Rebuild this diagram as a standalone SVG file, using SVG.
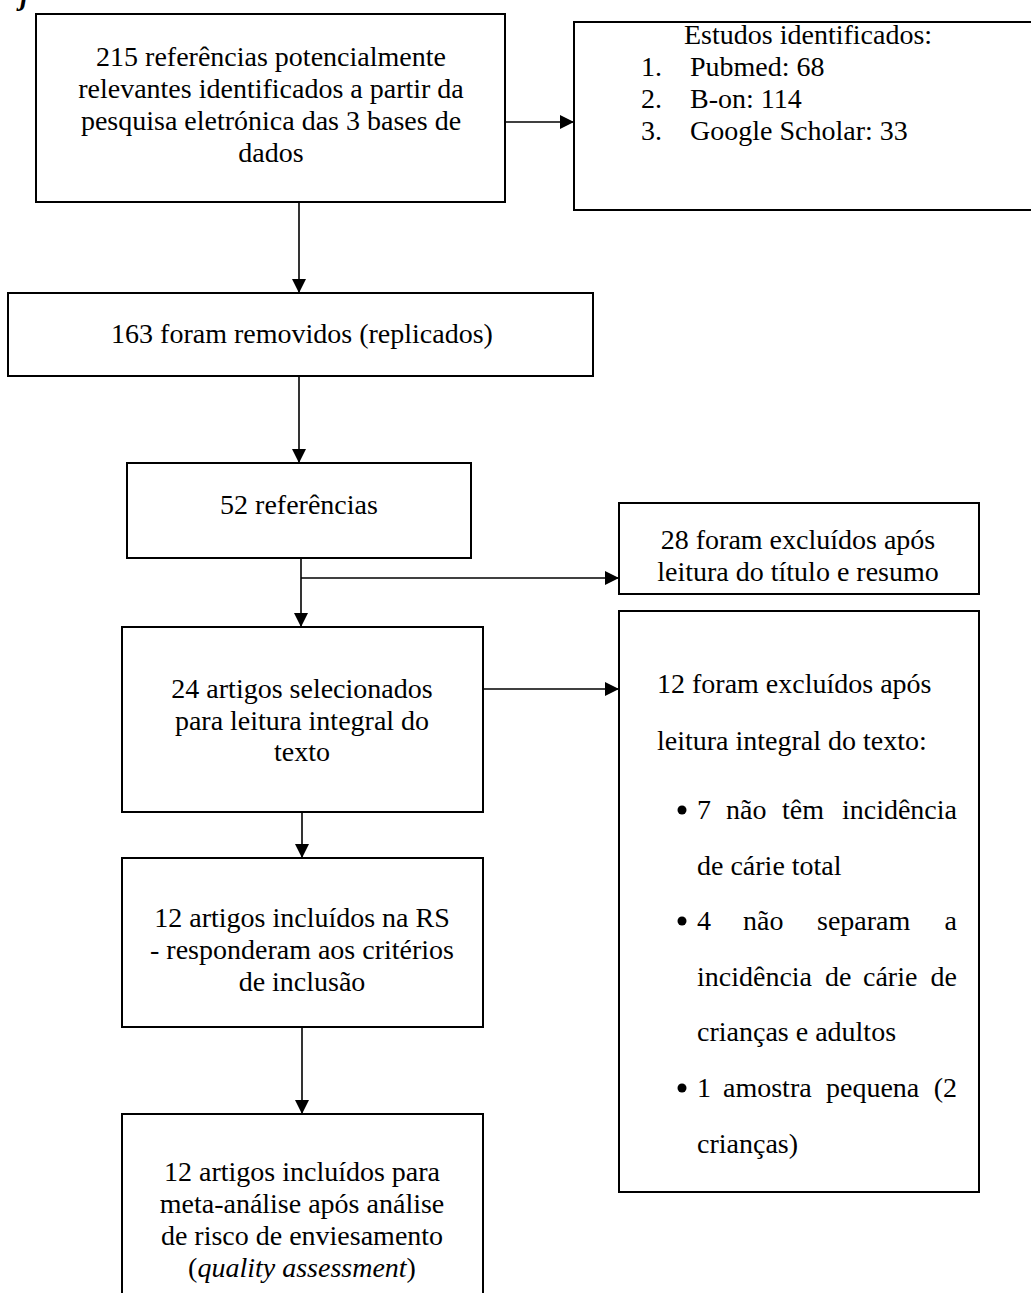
<svg xmlns="http://www.w3.org/2000/svg" width="1031" height="1293" viewBox="0 0 1031 1293">
<style>
text{font-family:"Liberation Serif","Times New Roman",serif;font-size:28px;fill:#000}
.c{text-anchor:middle}
.e{text-anchor:end}
.box{fill:#fff;stroke:#000;stroke-width:2}
.conn{fill:none;stroke:#000;stroke-width:1.6}
</style>
<defs>
<marker id="ah" markerUnits="userSpaceOnUse" markerWidth="14" markerHeight="14" viewBox="0 0 14 14" refX="14" refY="7" orient="auto">
<path d="M0,0 L14,7 L0,14 z" fill="#000"/>
</marker>
</defs>
<text x="20" y="5" style="font-style:italic;font-weight:bold">j</text>
<g id="connectors">
<path class="conn" d="M505,122 H574" marker-end="url(#ah)"/>
<path class="conn" d="M299,202 V293" marker-end="url(#ah)"/>
<path class="conn" d="M299,376 V463" marker-end="url(#ah)"/>
<path class="conn" d="M301,558 V627" marker-end="url(#ah)"/>
<path class="conn" d="M301,578 H619" marker-end="url(#ah)"/>
<path class="conn" d="M483,689 H619" marker-end="url(#ah)"/>
<path class="conn" d="M302,812 V858" marker-end="url(#ah)"/>
<path class="conn" d="M302,1027 V1114" marker-end="url(#ah)"/>
</g>
<g id="n1">
<rect class="box" x="36" y="14" width="469" height="188"/>
<text class="c" x="271" y="66">215 referências potencialmente</text>
<text class="c" x="271" y="98">relevantes identificados a partir da</text>
<text class="c" x="271" y="130">pesquisa eletrónica das 3 bases de</text>
<text class="c" x="271" y="162">dados</text>
</g>
<g id="n2">
<rect class="box" x="574" y="22" width="470" height="188"/>
<text x="684" y="44">Estudos identificados:</text>
<text x="641" y="76">1.</text><text x="690" y="76">Pubmed: 68</text>
<text x="641" y="108">2.</text><text x="690" y="108">B-on: 114</text>
<text x="641" y="140">3.</text><text x="690" y="140">Google Scholar: 33</text>
</g>
<g id="n3">
<rect class="box" x="8" y="293" width="585" height="83"/>
<text class="c" x="302" y="343">163 foram removidos (replicados)</text>
</g>
<g id="n4">
<rect class="box" x="127" y="463" width="344" height="95"/>
<text class="c" x="299" y="514">52 referências</text>
</g>
<g id="n5">
<rect class="box" x="619" y="503" width="360" height="91"/>
<text class="c" x="798" y="549">28 foram excluídos após</text>
<text class="c" x="798" y="581">leitura do título e resumo</text>
</g>
<g id="n6">
<rect class="box" x="619" y="611" width="360" height="581"/>
<text x="657" y="693">12 foram excluídos após</text>
<text x="657" y="750">leitura integral do texto:</text>
<circle cx="682" cy="810" r="4.5"/>
<text x="697" y="819">7</text><text x="726" y="819">não</text><text x="782" y="819">têm</text><text class="e" x="957" y="819">incidência</text>
<text x="697" y="875">de cárie total</text>
<circle cx="682" cy="921" r="4.5"/>
<text x="697" y="930">4</text><text x="743" y="930">não</text><text x="817" y="930">separam</text><text class="e" x="957" y="930">a</text>
<text x="697" y="986">incidência</text><text x="825" y="986">de</text><text x="863" y="986">cárie</text><text class="e" x="957" y="986">de</text>
<text x="697" y="1041">crianças e adultos</text>
<circle cx="682" cy="1088" r="4.5"/>
<text x="697" y="1097">1</text><text x="723" y="1097">amostra</text><text x="826" y="1097">pequena</text><text class="e" x="957" y="1097">(2</text>
<text x="697" y="1153">crianças)</text>
</g>
<g id="n7">
<rect class="box" x="122" y="627" width="361" height="185"/>
<text class="c" x="302" y="698">24 artigos selecionados</text>
<text class="c" x="302" y="730">para leitura integral do</text>
<text class="c" x="302" y="761">texto</text>
</g>
<g id="n8">
<rect class="box" x="122" y="858" width="361" height="169"/>
<text class="c" x="302" y="927">12 artigos incluídos na RS</text>
<text class="c" x="302" y="959">- responderam aos critérios</text>
<text class="c" x="302" y="991">de inclusão</text>
</g>
<g id="n9">
<rect class="box" x="122" y="1114" width="361" height="200"/>
<text class="c" x="302" y="1181">12 artigos incluídos para</text>
<text class="c" x="302" y="1213">meta-análise após análise</text>
<text class="c" x="302" y="1245">de risco de enviesamento</text>
<text class="c" x="302" y="1277">(<tspan font-style="italic">quality assessment</tspan>)</text>
</g>
</svg>
